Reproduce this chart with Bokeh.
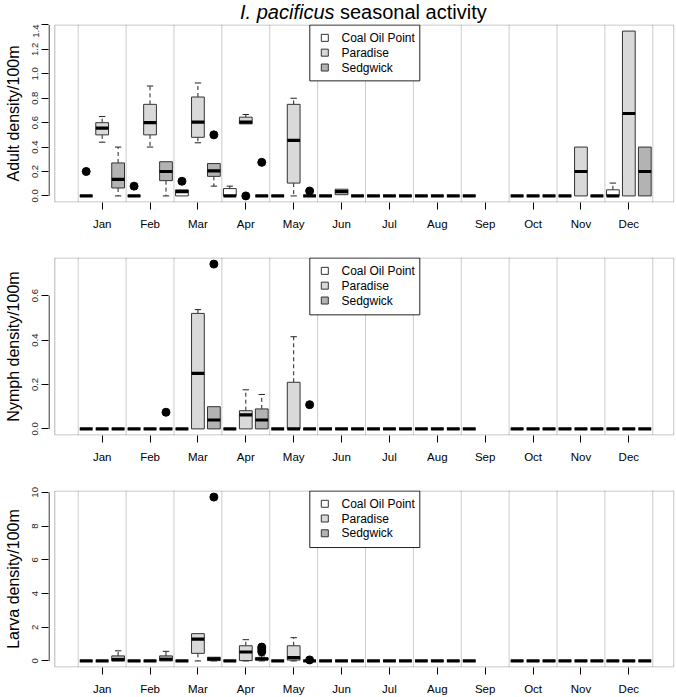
from bokeh.plotting import figure
from bokeh.models import Range1d, FixedTicker, BoxAnnotation
from bokeh.core.properties import value
from bokeh.layouts import column
from bokeh.embed import file_html
from bokeh.resources import INLINE

FONT = "Liberation Sans"

months = ["Jan", "Feb", "Mar", "Apr", "May", "Jun", "Jul", "Aug", "Sep", "Oct", "Nov", "Dec"]
sites = ["Coal Oil Point", "Paradise", "Sedgwick"]
site_fill = ["#FFFFFF", "#D9D9D9", "#B3B3B3"]

# five-number summaries per month: [lower whisker, Q1, median, Q3, upper whisker]; None = no samples
Z = [0, 0, 0, 0, 0]
adult_coal = [Z, Z, [0, 0, 0.035, 0.05, 0.05], [0, 0, 0, 0.06, 0.08], Z, Z, Z, Z, Z, Z, Z,
              [0, 0, 0, 0.05, 0.105]]
adult_paradise = [[0.44, 0.50, 0.555, 0.60, 0.65], [0.40, 0.50, 0.60, 0.75, 0.90],
                  [0.435, 0.48, 0.605, 0.81, 0.925], [0.59, 0.59, 0.605, 0.645, 0.667],
                  [0, 0.105, 0.455, 0.75, 0.80], [0.01, 0.01, 0.035, 0.055, 0.055], Z, Z, None, Z,
                  [0, 0, 0.20, 0.40, 0.40], [0, 0, 0.675, 1.35, 1.35]]
adult_sedgwick = [[0, 0.065, 0.135, 0.27, 0.40], [0, 0.125, 0.20, 0.28, 0.28],
                  [0.08, 0.16, 0.205, 0.265, 0.265], Z, Z, Z, Z, Z, None, Z, Z,
                  [0, 0, 0.20, 0.40, 0.40]]
adult_out_month = [0, 1, 2, 2, 3, 3, 4]
adult_out_site = [0, 0, 0, 2, 1, 2, 2]
adult_out_value = [0.20, 0.08, 0.12, 0.50, 0.0, 0.275, 0.04]

nymph_coal = [Z, Z, Z, Z, Z, Z, Z, Z, Z, Z, Z, Z]
nymph_paradise = [Z, Z, [0, 0, 0.25, 0.52, 0.537], [0, 0, 0.063, 0.082, 0.176],
                  [0, 0, 0, 0.21, 0.415], Z, Z, Z, None, Z, Z, Z]
nymph_sedgwick = [Z, Z, [0, 0, 0.04, 0.10, 0.10], [0, 0, 0.04, 0.09, 0.155], Z, Z, Z, Z, None, Z, Z, Z]
nymph_out_month = [1, 2, 4]
nymph_out_site = [2, 2, 2]
nymph_out_value = [0.075, 0.742, 0.109]

larva_coal = [Z, Z, Z, Z, Z, Z, Z, Z, Z, Z, Z, Z]
larva_paradise = [Z, Z, [0, 0.45, 1.30, 1.62, 1.62], [0, 0.02, 0.53, 0.90, 1.26],
                  [0, 0.05, 0.20, 0.90, 1.38], Z, Z, Z, None, Z, Z, Z]
larva_sedgwick = [[0, 0, 0.08, 0.30, 0.60], [0, 0, 0.10, 0.30, 0.57], [0, 0.02, 0.12, 0.22, 0.22],
                  [0, 0.05, 0.12, 0.18, 0.30], Z, Z, Z, Z, None, Z, Z, Z]
larva_out_month = [2, 3, 3, 3, 4]
larva_out_site = [2, 2, 2, 2, 2]
larva_out_value = [9.72, 0.82, 0.70, 0.55, 0.06]

adult_ticks = [0.0, 0.2, 0.4, 0.6, 0.8, 1.0, 1.2, 1.4]
adult_tick_labels = ["0.0", "0.2", "0.4", "0.6", "0.8", "1.0", "1.2", "1.4"]
nymph_ticks = [0.0, 0.2, 0.4, 0.6]
nymph_tick_labels = ["0.0", "0.2", "0.4", "0.6"]
larva_ticks = [0, 2, 4, 6, 8, 10]
larva_tick_labels = ["0", "2", "4", "6", "8", "10"]

title_italic = "I. pacificus"
title_rest = "seasonal activity"

# ---------------- layout constants ----------------
W = 676
B_LEFT = 48
B_RIGHT = 2
FRAME_W = W - B_LEFT - B_RIGHT
X_START = -1.362
X_END = 37.861
PX = FRAME_W / (X_END - X_START)
BOX_LEFT = -0.967
BOX_RIGHT = X_END - 0.6 / PX
HALF = 0.4


def xd(page_x):
    return X_START + (page_x - B_LEFT) / PX


def make_panel(stats, out_m, out_s, out_v, y0, y1, yticks, ylabels, ylab, height, btop, bbottom, leg_h):
    frame_h = height - btop - bbottom
    dy = (y1 - y0) / frame_h
    p = figure(width=W, height=height, x_range=Range1d(X_START, X_END), y_range=Range1d(y0, y1),
               output_backend="svg", toolbar_location=None,
               min_border_left=B_LEFT, min_border_right=B_RIGHT,
               min_border_top=btop, min_border_bottom=bbottom,
               outline_line_color=None, background_fill_color="white",
               border_fill_color="white")
    p.xgrid.visible = False
    p.ygrid.visible = False

    # month separators
    gx = [0.5 + 3 * k for k in range(13)]
    p.segment(x0=gx, y0=[y0] * 13, x1=gx, y1=[y1] * 13, line_color="#cccccc", line_width=1)

    bl, br, bb, bt, med, px_ = [], [], [], [], [], []
    wx, wy0, wy1 = [], [], []
    sx0, sx1, sy = [], [], []
    fills = []
    for s in range(3):
        for m in range(12):
            st = stats[s][m]
            if st is None:
                continue
            pos = 3 * m + s + 1
            lw, q1, md, q3, uw = st
            bl.append(pos - HALF)
            br.append(pos + HALF)
            bb.append(q1)
            bt.append(q3)
            med.append(md)
            px_.append(pos)
            fills.append(site_fill[s])
            if uw > q3:
                wx.append(pos); wy0.append(q3); wy1.append(uw)
                sx0.append(pos - HALF / 2); sx1.append(pos + HALF / 2); sy.append(uw)
            if lw < q1:
                wx.append(pos); wy0.append(q1); wy1.append(lw)
                sx0.append(pos - HALF / 2); sx1.append(pos + HALF / 2); sy.append(lw)

    p.segment(x0=wx, y0=wy0, x1=wx, y1=wy1, line_color="#222222", line_width=1, line_dash="4 3")
    p.segment(x0=sx0, y0=sy, x1=sx1, y1=sy, line_color="#222222", line_width=1)
    p.quad(left=bl, right=br, bottom=bb, top=bt, fill_color=fills, line_color="#333333", line_width=1)
    p.segment(x0=[x - HALF for x in px_], y0=med, x1=[x + HALF for x in px_], y1=med,
              line_color="black", line_width=3.2, line_cap="butt")
    ox = [3 * m + s + 1 for m, s in zip(out_m, out_s)]
    p.scatter(x=ox, y=out_v, marker="circle", size=8, fill_color="black", line_color="black")

    # y axis line (from first to last tick, as in R)
    ax = X_START + 0.55 / PX
    p.segment(x0=[ax], y0=[yticks[0]], x1=[ax], y1=[yticks[-1]], line_color="black", line_width=1)

    # legend box (drawn as glyphs so it sits over the month separators)
    top = y1 - 0.5 * dy
    p.quad(left=[xd(309.3)], right=[xd(419.3)], top=[top], bottom=[y1 - leg_h * dy],
           fill_color="white", line_color="#222222", line_width=1)
    rows = [y1 - (13.5 + 15 * i) * dy for i in range(3)]
    p.scatter(x=[xd(324.3)] * 3, y=rows, marker="square", size=7, fill_color=site_fill,
              line_color="#333333", line_width=1)
    p.text(x=[xd(341)] * 3, y=rows, text=sites, text_font=value(FONT), text_font_size="12px",
           text_baseline="middle", text_align="left", text_color="black")

    # plot box
    p.add_layout(BoxAnnotation(left=BOX_LEFT, right=BOX_RIGHT, bottom=y0 + 0.5 * dy, top=y1 - 0.5 * dy,
                               fill_color=None, line_color="#111111", line_width=1))

    # axes
    xt = [3 * m + 2 for m in range(12)]
    p.xaxis.ticker = FixedTicker(ticks=xt)
    p.xaxis.major_label_overrides = {t: months[i] for i, t in enumerate(xt)}
    p.xaxis.axis_line_color = None
    p.xaxis.major_tick_in = 0
    p.xaxis.major_tick_out = 7
    p.xaxis.major_tick_line_color = "black"
    p.xaxis.minor_tick_line_color = None
    p.xaxis.major_label_standoff = 8
    p.xaxis.major_label_text_font = FONT
    p.xaxis.major_label_text_font_size = "11.5px"
    p.xaxis.major_label_text_color = "black"

    p.yaxis.ticker = FixedTicker(ticks=yticks)
    p.yaxis.major_label_overrides = {t: l for t, l in zip(yticks, ylabels)}
    p.yaxis.axis_line_color = None
    p.yaxis.major_tick_in = 0
    p.yaxis.major_tick_out = 7
    p.yaxis.major_tick_line_color = "black"
    p.yaxis.minor_tick_line_color = None
    p.yaxis.major_label_orientation = "vertical"
    p.yaxis.major_label_standoff = 3
    p.yaxis.major_label_text_font = FONT
    p.yaxis.major_label_text_font_size = "9.5px"
    p.yaxis.major_label_text_color = "#222222"
    p.yaxis.axis_label = ylab
    p.yaxis.axis_label_standoff = 8
    p.yaxis.axis_label_text_font = FONT
    p.yaxis.axis_label_text_font_size = "16px"
    p.yaxis.axis_label_text_font_style = "normal"
    p.yaxis.axis_label_text_color = "black"
    return p


# title strip (italic species name + plain text), centred over the plot box
TITLE_H = 24
pt = figure(width=W, height=TITLE_H, x_range=Range1d(X_START, X_END), y_range=Range1d(0, TITLE_H),
            output_backend="svg", toolbar_location=None, x_axis_location=None, y_axis_location=None,
            min_border_left=B_LEFT, min_border_right=B_RIGHT, min_border_top=0, min_border_bottom=0,
            outline_line_color=None, background_fill_color="white", border_fill_color="white")
pt.xgrid.visible = False
pt.ygrid.visible = False
split_page_x = 336.5
mid_y = TITLE_H - 11.3
pt.text(x=[xd(split_page_x - 2.5)], y=[mid_y], text=[title_italic], text_align="right",
        text_baseline="middle", text_font=value(FONT), text_font_style="italic",
        text_font_size="20px", text_color="black")
pt.text(x=[xd(split_page_x + 3.0)], y=[mid_y], text=[title_rest], text_align="left",
        text_baseline="middle", text_font=value(FONT), text_font_size="20px",
        text_color="black")

p1 = make_panel([adult_coal, adult_paradise, adult_sedgwick], adult_out_month, adult_out_site,
                adult_out_value, -0.054, 1.404, adult_ticks, adult_tick_labels,
                "Adult density/100m", 232 - TITLE_H, 0, 28, 57)
p2 = make_panel([nymph_coal, nymph_paradise, nymph_sedgwick], nymph_out_month, nymph_out_site,
                nymph_out_value, -0.0297, 0.7717, nymph_ticks, nymph_tick_labels,
                "Nymph density/100m", 233, 25, 28, 58)
p3 = make_panel([larva_coal, larva_paradise, larva_sedgwick], larva_out_month, larva_out_site,
                larva_out_value, -0.389, 10.11, larva_ticks, larva_tick_labels,
                "Larva density/100m", 232, 25, 27, 58)

layout = column(pt, p1, p2, p3, spacing=0)
open("out.html", "w").write(file_html(layout, INLINE))
